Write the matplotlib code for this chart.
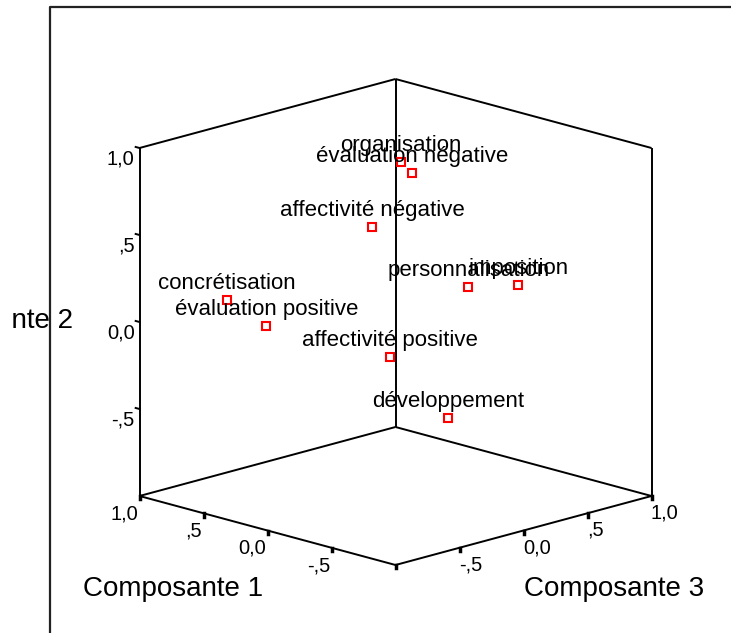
import matplotlib
matplotlib.use("Agg")
import matplotlib.pyplot as plt
from matplotlib.patches import Rectangle
import numpy as np

plt.rcParams['font.family'] = ['Liberation Sans', 'DejaVu Sans']

# component loadings
names = ["organisation", "évaluation négative", "affectivité négative",
         "personnalisation", "imposition", "concrétisation",
         "évaluation positive", "affectivité positive", "développement"]
comp1 = [0.10, 0.05, 0.20, -0.10, -0.20, 0.80, 0.70, 0.30, 0.10]
comp2 = [0.87, 0.81, 0.50, 0.13, 0.10, 0.07, -0.10, -0.31, -0.67]
comp3 = [0.14, 0.18, 0.02, 0.47, 0.76, -0.52, -0.31, 0.26, 0.51]

tick_vals = [1.0, 0.5, 0.0, -0.5]
tick_labels = ["1,0", ",5", "0,0", "-,5"]
axis_titles = ["Composante 1", "Composante 2", "Composante 3"]

# oblique projection of the cube [-1,1]^3 onto the page
K = 34.5 / 174


def proj(c1, c2, c3):
    c1, c2, c3 = np.asarray(c1), np.asarray(c2), np.asarray(c3)
    return c3 - c1, c2 + K * (c1 + c3)


fig = plt.figure(figsize=(7.31, 6.33), dpi=100)
ax = fig.add_axes([0, 0, 1, 1])
ax.set_xlim(-395.5 / 128, 335.5 / 128)
ax.set_ylim((322 - 633) / 174, 322 / 174)
ax.axis('off')

# outer frame (left and top only are visible)
ax.plot([50 / 731, 50 / 731, 1.0], [0.0, 1 - 7 / 633, 1 - 7 / 633],
        transform=ax.transAxes, color='#222222', lw=1.6, clip_on=False)

# box edges
edges = [
    [(1, -1, -1), (1, 1, -1)],
    [(1, -1, 1), (1, 1, 1)],
    [(-1, -1, 1), (-1, 1, 1)],
    [(1, 1, -1), (1, 1, 1)],
    [(1, 1, 1), (-1, 1, 1)],
    [(1, -1, -1), (1, -1, 1)],
    [(1, -1, 1), (-1, -1, 1)],
    [(1, -1, -1), (-1, -1, -1)],
    [(-1, -1, -1), (-1, -1, 1)],
]
for a, b in edges:
    u, v = proj([a[0], b[0]], [a[1], b[1]], [a[2], b[2]])
    ax.plot(u, v, color='black', lw=1.4, solid_capstyle='butt')

# ticks and tick labels
for t, lab in zip(tick_vals, tick_labels):
    # composante 2 on left vertical edge
    u, v = proj([1, 1.03], [t, t], [-1, -1])
    ax.plot(u, v, color='black', lw=1.4)
    ax.annotate(lab, (u[0], v[0]), xytext=(-5, -11), textcoords='offset pixels',
                ha='right', va='center', fontsize=14.5)
    # composante 1 on front-left bottom edge
    u, v = proj([t, t], [-1, -1.02], [-1, -1])
    ax.plot(u, v, color='black', lw=2.5)
    ax.annotate(lab, (u[0], v[0]), xytext=(-1.5, -18), textcoords='offset pixels',
                ha='right', va='center', fontsize=14.5)
    # composante 3 on front-right bottom edge
    u, v = proj([-1, -1], [-1, -1.02], [t, t])
    ax.plot(u, v, color='black', lw=2.5)
    ax.annotate(lab, (u[0], v[0]), xytext=(-0.5, -17), textcoords='offset pixels',
                ha='left', va='center', fontsize=14.5)

u, v = proj([-1, -1], [-1, -1.02], [-1, -1])
ax.plot(u, v, color='black', lw=2.5)

# points and labels
pu, pv = proj(comp1, comp2, comp3)
for name, u, v in zip(names, pu, pv):
    ax.annotate(name, (u, v), xytext=(0, 11), textcoords='offset pixels',
                ha='center', va='baseline', fontsize=16)
ax.plot(pu, pv, 's', ms=6.3, mfc='none', mec='red', mew=1.5, ls='none')

# axis titles
fig.text(173 / 731, 1 - 589 / 633, axis_titles[0], ha='center', va='center', fontsize=20)
t2 = fig.text(73 / 731, 1 - 321 / 633, axis_titles[1], ha='right', va='center', fontsize=20)
clip = Rectangle((13, 0), 800, 700, transform=None)
t2.set_clip_path(clip)
fig.text(614 / 731, 1 - 589 / 633, axis_titles[2], ha='center', va='center', fontsize=20)

fig.savefig("out.png", dpi=100)
